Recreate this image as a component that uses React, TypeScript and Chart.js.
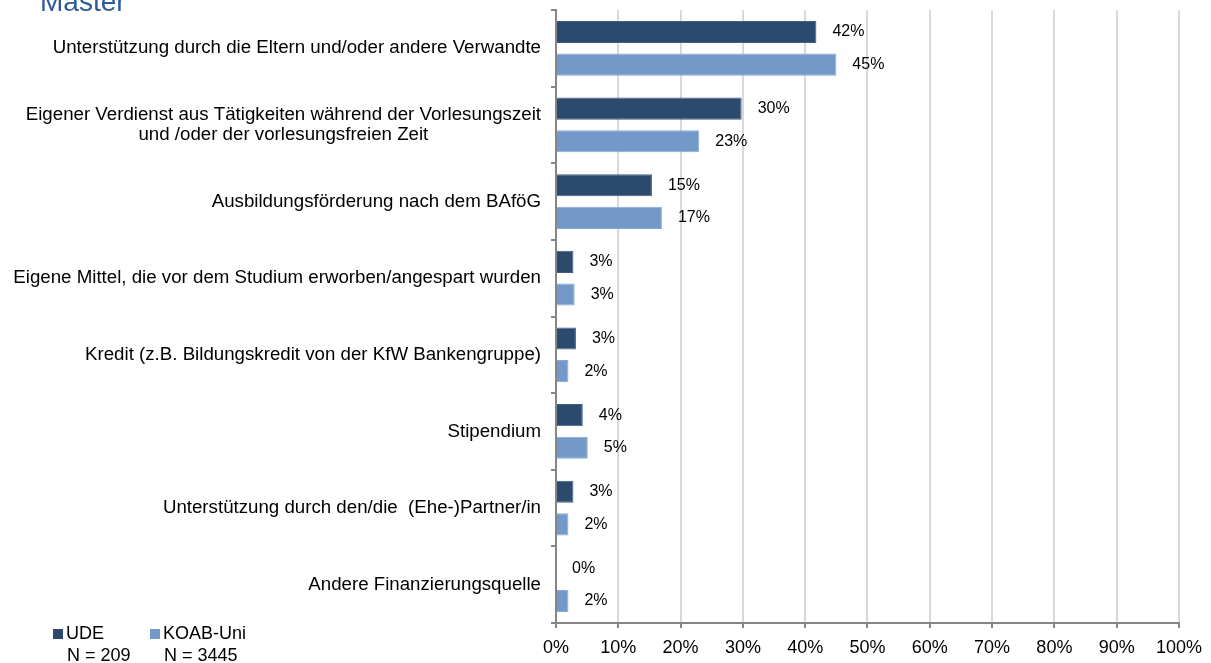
import React, { useEffect, useRef } from "react";
import { Chart, registerables } from "chart.js";

Chart.register(...registerables);

const categories: (string | string[])[] = [
  "Unterstützung durch die Eltern und/oder andere Verwandte",
  ["Eigener Verdienst aus Tätigkeiten während der Vorlesungszeit", "und /oder der vorlesungsfreien Zeit"],
  "Ausbildungsförderung nach dem BAföG",
  "Eigene Mittel, die vor dem Studium erworben/angespart wurden",
  "Kredit (z.B. Bildungskredit von der KfW Bankengruppe)",
  "Stipendium",
  "Unterstützung durch den/die  (Ehe-)Partner/in",
  "Andere Finanzierungsquelle",
];

const udeValues = [41.8, 29.8, 15.4, 2.8, 3.2, 4.3, 2.8, 0];
const koabValues = [45.0, 23.0, 17.0, 3.0, 2.0, 5.1, 2.0, 2.0];

const seriesNames = ["UDE", "KOAB-Uni"];
const seriesN = ["N = 209", "N = 3445"];
const seriesColors = ["#2C4A6E", "#7299C7"];
const seriesBorders = ["#3E5E86", "#86AAD3"];
const titleText = "Master";

const FONT = '"Liberation Sans", Arial, Helvetica, sans-serif';

const labelPlugin = {
  id: "customLabels",
  afterDraw(chart: any) {
    const ctx = chart.ctx;
    const yScale = chart.scales.y;
    const right = chart.chartArea.left - 15;
    ctx.save();
    ctx.font = `18.7px ${FONT}`;
    ctx.fillStyle = "#000";
    ctx.textBaseline = "middle";
    ctx.textAlign = "center";
    categories.forEach((c, i) => {
      const lines = Array.isArray(c) ? c : [c];
      const w = Math.max(...lines.map((l) => ctx.measureText(l).width));
      const cx = right - w / 2;
      const cy = yScale.getPixelForValue(i);
      const lh = 20;
      lines.forEach((l, j) => {
        ctx.fillText(l, cx, cy + (j - (lines.length - 1) / 2) * lh);
      });
    });
    ctx.font = `16px ${FONT}`;
    ctx.textAlign = "left";
    chart.data.datasets.forEach((ds: any, di: number) => {
      const meta = chart.getDatasetMeta(di);
      meta.data.forEach((bar: any, i: number) => {
        const x0 = chart.scales.x.getPixelForValue(0);
        const xe = Math.max(bar.x, x0);
        ctx.fillText(Math.round(ds.data[i]) + "%", xe + 16, bar.y);
      });
    });
    ctx.restore();
  },
};

export default function App() {
  const ref = useRef<HTMLCanvasElement | null>(null);

  useEffect(() => {
    document.body.style.margin = "0";
    const canvas = ref.current;
    if (!canvas) return;
    const chart = new Chart(canvas, {
      type: "bar",
      data: {
        labels: categories.map((c) => (Array.isArray(c) ? c.join(" ") : c)),
        datasets: [
          {
            label: seriesNames[0],
            data: udeValues,
            backgroundColor: seriesColors[0],
            borderColor: seriesBorders[0],
            borderWidth: 1,
            categoryPercentage: 0.85,
            barPercentage: 0.68,
          },
          {
            label: seriesNames[1],
            data: koabValues,
            backgroundColor: seriesColors[1],
            borderColor: seriesBorders[1],
            borderWidth: 1,
            categoryPercentage: 0.85,
            barPercentage: 0.68,
          },
        ],
      },
      options: {
        indexAxis: "y",
        responsive: false,
        animation: false,
        devicePixelRatio: 1,
        layout: { padding: { top: 10, right: 32, left: 0, bottom: 0 } },
        plugins: {
          legend: { display: false },
          tooltip: { enabled: false },
          title: { display: false },
        },
        scales: {
          x: {
            min: 0,
            max: 100,
            ticks: {
              stepSize: 10,
              callback: (v: any) => v + "%",
              color: "#000",
              font: { size: 18, family: FONT },
              padding: 9,
              maxRotation: 0,
            },
            grid: {
              color: "#d9d9d9",
              lineWidth: 2,
              drawTicks: true,
              tickLength: 5,
              tickColor: "#868686",
              tickWidth: 2,
            },
            border: { color: "#868686", width: 2 },
            afterFit: (s: any) => {
              s.height = 40;
            },
          },
          y: {
            ticks: { display: false },
            grid: {
              display: true,
              drawOnChartArea: false,
              drawTicks: true,
              tickLength: 5,
              color: "#868686",
              lineWidth: 2,
              offset: true,
            },
            border: { color: "#868686", width: 2 },
            afterFit: (s: any) => {
              s.width = 556;
            },
          },
        },
      },
      plugins: [labelPlugin],
    } as any);
    return () => chart.destroy();
  }, []);

  const legendItem = (i: number, left: number, textLeft: number) => (
    <React.Fragment key={i}>
      <div
        style={{
          position: "absolute",
          left,
          top: 629,
          width: 10,
          height: 10,
          background: seriesColors[i],
        }}
      />
      <div
        style={{
          position: "absolute",
          left: textLeft,
          top: 623,
          fontFamily: FONT,
          fontSize: 18,
          lineHeight: "21.5px",
          color: "#000",
          whiteSpace: "nowrap",
        }}
      >
        <div>{seriesNames[i]}</div>
        <div style={{ marginLeft: 1 }}>{seriesN[i]}</div>
      </div>
    </React.Fragment>
  );

  return (
    <div
      style={{
        position: "absolute",
        left: 0,
        top: 0,
        width: 1211,
        height: 663,
        overflow: "hidden",
        background: "#fff",
      }}
    >
      <canvas ref={ref} width={1211} height={663} style={{ position: "absolute", left: 0, top: 0 }} />
      <div
        style={{
          position: "absolute",
          left: 40,
          top: -12.5,
          fontFamily: FONT,
          fontSize: 28,
          lineHeight: "28px",
          color: "#2E5A9A",
          whiteSpace: "nowrap",
        }}
      >
        {titleText}
      </div>
      {legendItem(0, 53, 66)}
      {legendItem(1, 150, 163)}
    </div>
  );
}
